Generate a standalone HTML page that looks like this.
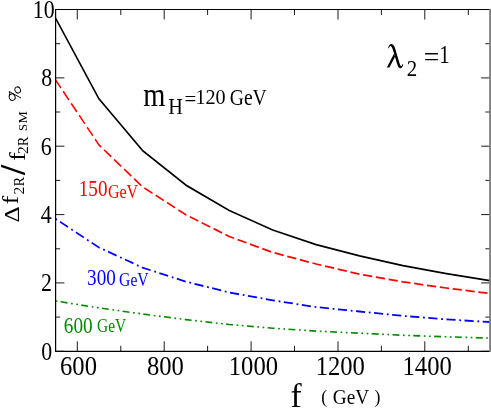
<!DOCTYPE html>
<html><head><meta charset="utf-8"><title>plot</title>
<style>
html,body{margin:0;padding:0;background:#fff;}
svg{display:block;will-change:transform;}
text{font-family:"Liberation Serif",serif;}
</style></head><body>
<svg width="491" height="409" viewBox="0 0 491 409">
<rect x="0" y="0" width="491" height="409" fill="#fff"/>
<clipPath id="c"><rect x="55.6" y="9.5" width="434.4" height="341.8"/></clipPath>
<g clip-path="url(#c)"><g transform="scale(0.85,1)" fill="none" stroke-width="1.8" stroke-linejoin="round">
<polyline points="65.41,18.3 116.49,98.9 167.58,150.4 218.66,185.1 269.74,210.5 320.82,230.0 371.91,244.7 422.99,255.9 474.07,265.7 525.15,273.6 576.24,280.7" stroke="#000"/>
<polyline points="65.41,80.0 116.49,145.0 167.58,186.7 218.66,214.8 269.74,236.5 320.82,252.4 371.91,264.0 422.99,274.2 474.07,281.9 525.15,288.0 576.24,293.5" stroke="#ff0000" stroke-width="1.75" stroke-dasharray="10.84 4.35" stroke-dashoffset="0.7"/>
<polyline points="65.41,218.9 116.49,247.5 167.58,267.6 218.66,281.6 269.74,292.5 320.82,300.3 371.91,307.1 422.99,311.5 474.07,315.9 525.15,319.4 576.24,322.0" stroke="#0000ff" stroke-width="1.8" stroke-dasharray="10.75 4.4 2.1 4.1" stroke-dashoffset="15.4"/>
<polyline points="65.41,301.0 116.49,307.9 167.58,314.0 218.66,319.6 269.74,324.5 320.82,328.2 371.91,331.1 422.99,333.2 474.07,335.3 525.15,336.8 576.24,338.1" stroke="#008b00" stroke-width="1.6" stroke-dasharray="8.12 4.26 2 4.16 2 3.96" stroke-dashoffset="18.5"/>
</g></g>
<g stroke="#000" stroke-width="0.9" fill="none">
<line x1="77.3" y1="351.3" x2="77.3" y2="341.3" stroke-width="0.9"/><line x1="77.3" y1="9.5" x2="77.3" y2="19.5" stroke-width="0.9"/>
<line x1="120.8" y1="351.3" x2="120.8" y2="345.8" stroke-width="0.9"/><line x1="120.8" y1="9.5" x2="120.8" y2="15.0" stroke-width="0.9"/>
<line x1="164.2" y1="351.3" x2="164.2" y2="341.3" stroke-width="0.9"/><line x1="164.2" y1="9.5" x2="164.2" y2="19.5" stroke-width="0.9"/>
<line x1="207.6" y1="351.3" x2="207.6" y2="345.8" stroke-width="0.9"/><line x1="207.6" y1="9.5" x2="207.6" y2="15.0" stroke-width="0.9"/>
<line x1="251.1" y1="351.3" x2="251.1" y2="341.3" stroke-width="0.9"/><line x1="251.1" y1="9.5" x2="251.1" y2="19.5" stroke-width="0.9"/>
<line x1="294.5" y1="351.3" x2="294.5" y2="345.8" stroke-width="0.9"/><line x1="294.5" y1="9.5" x2="294.5" y2="15.0" stroke-width="0.9"/>
<line x1="338.0" y1="351.3" x2="338.0" y2="341.3" stroke-width="0.9"/><line x1="338.0" y1="9.5" x2="338.0" y2="19.5" stroke-width="0.9"/>
<line x1="381.4" y1="351.3" x2="381.4" y2="345.8" stroke-width="0.9"/><line x1="381.4" y1="9.5" x2="381.4" y2="15.0" stroke-width="0.9"/>
<line x1="424.8" y1="351.3" x2="424.8" y2="341.3" stroke-width="0.9"/><line x1="424.8" y1="9.5" x2="424.8" y2="19.5" stroke-width="0.9"/>
<line x1="468.3" y1="351.3" x2="468.3" y2="345.8" stroke-width="0.9"/><line x1="468.3" y1="9.5" x2="468.3" y2="15.0" stroke-width="0.9"/>
<line x1="55.6" y1="351.3" x2="64.4" y2="351.3"/><line x1="490.0" y1="351.3" x2="481.2" y2="351.3"/>
<line x1="55.6" y1="317.1" x2="60.2" y2="317.1"/><line x1="490.0" y1="317.1" x2="485.4" y2="317.1"/>
<line x1="55.6" y1="282.9" x2="64.4" y2="282.9"/><line x1="490.0" y1="282.9" x2="481.2" y2="282.9"/>
<line x1="55.6" y1="248.8" x2="60.2" y2="248.8"/><line x1="490.0" y1="248.8" x2="485.4" y2="248.8"/>
<line x1="55.6" y1="214.6" x2="64.4" y2="214.6"/><line x1="490.0" y1="214.6" x2="481.2" y2="214.6"/>
<line x1="55.6" y1="180.4" x2="60.2" y2="180.4"/><line x1="490.0" y1="180.4" x2="485.4" y2="180.4"/>
<line x1="55.6" y1="146.2" x2="64.4" y2="146.2"/><line x1="490.0" y1="146.2" x2="481.2" y2="146.2"/>
<line x1="55.6" y1="112.0" x2="60.2" y2="112.0"/><line x1="490.0" y1="112.0" x2="485.4" y2="112.0"/>
<line x1="55.6" y1="77.9" x2="64.4" y2="77.9"/><line x1="490.0" y1="77.9" x2="481.2" y2="77.9"/>
<line x1="55.6" y1="43.7" x2="60.2" y2="43.7"/><line x1="490.0" y1="43.7" x2="485.4" y2="43.7"/>
<line x1="55.6" y1="9.5" x2="64.4" y2="9.5"/><line x1="490.0" y1="9.5" x2="481.2" y2="9.5"/>
</g>
<path d="M490.0,9.5 H55.6 V351.3 H490.0" fill="none" stroke="#000" stroke-width="1.2" stroke-linejoin="miter"/>
<rect x="489.15" y="8.9" width="1.85" height="343.0" fill="#808080"/>
<text transform="translate(78.52,375.3) scale(0.88,1)" font-size="28" fill="#000" text-anchor="middle" >600</text>
<text transform="translate(165.39999999999998,375.3) scale(0.88,1)" font-size="28" fill="#000" text-anchor="middle" >800</text>
<text transform="translate(253.38,375.3) scale(0.88,1)" font-size="28" fill="#000" text-anchor="middle" >1000</text>
<text transform="translate(340.26,375.3) scale(0.88,1)" font-size="28" fill="#000" text-anchor="middle" >1200</text>
<text transform="translate(427.14,375.3) scale(0.88,1)" font-size="28" fill="#000" text-anchor="middle" >1400</text>
<text transform="translate(52.3,359.7) scale(0.875,1)" font-size="25" fill="#000" text-anchor="end" >0</text>
<text transform="translate(52.0,291.34) scale(0.875,1)" font-size="25" fill="#000" text-anchor="end" >2</text>
<text transform="translate(51.6,222.98000000000002) scale(0.875,1)" font-size="25" fill="#000" text-anchor="end" >4</text>
<text transform="translate(51.6,154.62000000000003) scale(0.875,1)" font-size="25" fill="#000" text-anchor="end" >6</text>
<text transform="translate(52.3,86.26000000000002) scale(0.875,1)" font-size="25" fill="#000" text-anchor="end" >8</text>
<text transform="translate(54.6,18.3) scale(0.875,1)" font-size="25" fill="#000" text-anchor="end" >10</text>
<text transform="translate(290.5,406.8) scale(1.0,1)" font-size="33.5" fill="#000" text-anchor="start" >f</text>
<text transform="translate(321.2,403.3) scale(0.9,1)" font-size="19.7" fill="#000" text-anchor="start" >(</text>
<text transform="translate(332.8,403.6) scale(0.94,1)" font-size="20.5" fill="#000" text-anchor="start" >GeV</text>
<text transform="translate(374.6,403.3) scale(0.9,1)" font-size="19.7" fill="#000" text-anchor="start" >)</text>
<text transform="translate(143.2,106.4) scale(0.85,1)" font-size="33.5" fill="#000" text-anchor="start" >m</text>
<text transform="translate(168.2,113.9) scale(0.9,1)" font-size="22.5" fill="#000" text-anchor="start" >H</text>
<text transform="translate(184.6,106.2) scale(0.95,1)" font-size="22" fill="#000" text-anchor="start" >=</text>
<text transform="translate(195.4,104.4) scale(0.96,1)" font-size="21" fill="#000" text-anchor="start" >120</text>
<text transform="translate(229.7,104.5) scale(0.855,1)" font-size="23" fill="#000" text-anchor="start" >GeV</text>
<g transform="translate(380,38) scale(0.09775)" fill="#000" stroke="none"><path d="M83,106 Q86,80 101,66 Q116,56 134,68 Q148,80 156,110 L192,232 Q202,268 208,280 Q214,290 221,286 Q228,280 230,266 L237,268 Q236,292 222,305 Q206,314 192,302 Q182,292 174,262 L140,146 Q128,106 118,90 Q108,78 99,86 Q92,94 90,106 Z"/><path d="M144,158 L154,192 L96,301 L70,301 Z"/></g>
<text transform="translate(406.8,75.6) scale(0.93,1)" font-size="22.5" fill="#000" text-anchor="start" >2</text>
<text transform="translate(423.8,66.0) scale(0.98,1)" font-size="28" fill="#000" text-anchor="start" >=</text>
<text transform="translate(439.3,62.6) scale(0.85,1)" font-size="24.5" fill="#000" text-anchor="start" >1</text>
<text transform="translate(78.8,196.0) scale(0.85,1)" font-size="22.5" fill="#ff0000" text-anchor="start" >150</text>
<text transform="translate(107.9,198.4) scale(0.863,1)" font-size="18.6" fill="#ff0000" text-anchor="start" >GeV</text>
<text transform="translate(87.1,284.7) scale(0.86,1)" font-size="22.3" fill="#0000ff" text-anchor="start" >300</text>
<text transform="translate(119.1,286.2) scale(0.87,1)" font-size="18" fill="#0000ff" text-anchor="start" >GeV</text>
<text transform="translate(63.8,332.7) scale(0.853,1)" font-size="22.5" fill="#008b00" text-anchor="start" >600</text>
<text transform="translate(97.1,331.8) scale(0.83,1)" font-size="18.6" fill="#008b00" text-anchor="start" >GeV</text>
<text transform="translate(19.2,222.6) rotate(-90) scale(1.2,1)" font-size="21" fill="#000" text-anchor="start" >Δ</text>
<text transform="translate(18.3,204.3) rotate(-90) scale(1.1,1)" font-size="23" fill="#000" text-anchor="start" >f</text>
<text transform="translate(24.4,194.5) rotate(-90) scale(1.0,1)" font-size="15.5" fill="#000" text-anchor="start" >2</text>
<text transform="translate(24.4,186.6) rotate(-90) scale(1.0,1)" font-size="14.5" fill="#000" text-anchor="start" >R</text>
<text transform="translate(25.0,175.0) rotate(-90) scale(1.0,1)" font-size="36.5" fill="#000" text-anchor="start" font-weight="bold">/</text>
<text transform="translate(25.1,160.8) rotate(-90) scale(1.1,1)" font-size="23" fill="#000" text-anchor="start" >f</text>
<text transform="translate(27.9,154.1) rotate(-90) scale(1.0,1)" font-size="15.5" fill="#000" text-anchor="start" >2</text>
<text transform="translate(27.9,146.2) rotate(-90) scale(1.0,1)" font-size="14.5" fill="#000" text-anchor="start" >R</text>
<text transform="translate(27.1,131.0) rotate(-90) scale(1.0,1)" font-size="12.6" fill="#000" text-anchor="start" >S</text>
<text transform="translate(27.1,123.6) rotate(-90) scale(1.1,1)" font-size="12.6" fill="#000" text-anchor="start" >M</text>
<g transform="translate(21.8,101.4) rotate(-90)" fill="none" stroke="#000" stroke-width="0.95" stroke-linecap="round"><ellipse cx="4.2" cy="-9.6" rx="3.3" ry="2.9" transform="rotate(-25 4.2 -9.6)"/><ellipse cx="11.4" cy="-4.1" rx="3.1" ry="2.7" transform="rotate(-25 11.4 -4.1)"/><path d="M3.5,-1.1 L9.9,-12.6 Q7.5,-11.6 5.6,-12.3"/></g>
</svg>
</body></html>
